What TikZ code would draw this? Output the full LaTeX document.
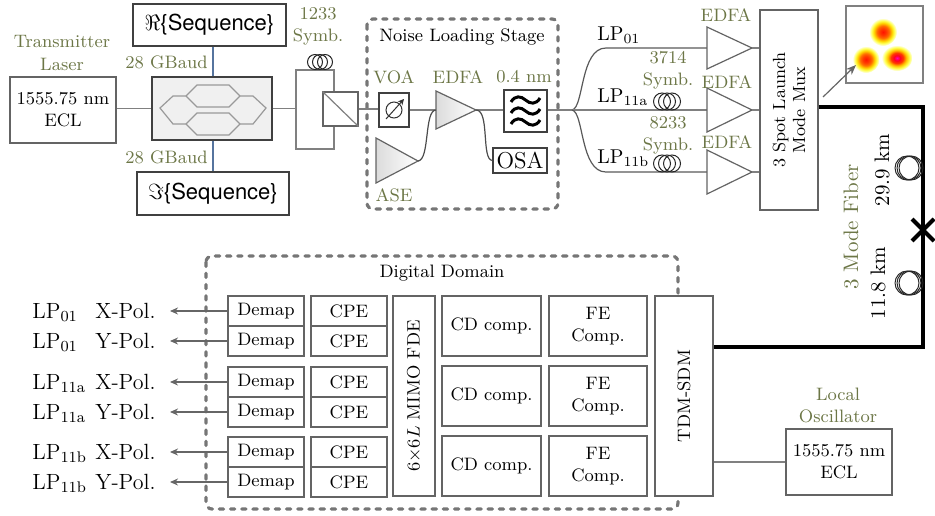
\documentclass[tikz,border=0pt]{standalone}
\usepackage{fontspec}
\newfontfamily\seqfont{TeX Gyre Heros}
\usetikzlibrary{arrows.meta}

\definecolor{labelgreen}{RGB}{108,118,70}
\definecolor{wiregray}{RGB}{128,128,128}
\definecolor{edgegray}{RGB}{100,100,100}
\definecolor{rfblue}{RGB}{86,116,158}
\definecolor{stagegray}{RGB}{118,118,118}

% intensity profiles of the launched spots
\pgfdeclareradialshading{spotwarm}{\pgfpointorigin}{%
  color(0bp)=(red!85!orange); color(6bp)=(red!55!orange); color(11bp)=(orange!85!red);
  color(16bp)=(orange!35!yellow); color(20bp)=(yellow!70); color(25bp)=(white)}
\pgfdeclareradialshading{spothot}{\pgfpointorigin}{%
  color(0bp)=(magenta!70!red); color(5bp)=(red!85!magenta); color(10bp)=(red!55!orange);
  color(15bp)=(orange!50!yellow); color(20bp)=(yellow!70); color(25bp)=(white)}

% fibre spool: centre x, centre y, loop radius, loop offset
\newcommand{\fibercoil}[4]{%
  \foreach \dx in {-1,0,1}{\draw[coilline] ({#1+\dx*#4},#2) circle[radius=#3];}}

\begin{document}
\begin{tikzpicture}[x=0.5pt,y=-0.5pt,
  font=\fontsize{9}{11}\selectfont,
  % a rectangle given by its left, top, right and bottom edges
  span/.style n args={4}{minimum width={(#3-#1)*0.5pt}, minimum height={(#4-#2)*0.5pt},
    at={({(#1+#3)/2},{(#2+#4)/2})}},
  box/.style={draw=edgegray, line width=0.6pt, fill=white, inner sep=0pt, align=center},
  wire/.style={draw=wiregray, line width=0.6pt},
  bendline/.style={draw=black!70, line width=0.6pt},
  rfline/.style={draw=rfblue, line width=0.7pt},
  lab/.style={text=labelgreen, align=center, inner sep=0pt},
  txt/.style={align=center, inner sep=0pt},
  stage/.style={draw=stagegray, line width=1.6pt, line cap=round, dash pattern=on 2.2pt off 3.4pt, rounded corners=3pt},
  fiber/.style={draw=black, line width=2.2pt, line join=miter},
  ampout/.style={draw=edgegray, line width=0.6pt, fill=white},
  ampin/.style={draw=edgegray, line width=0.6pt, left color=black!14, right color=white},
  coilline/.style={draw=black!85, line width=0.5pt},
  outarrow/.style={draw=black!60, line width=0.7pt, -{Stealth[length=4pt,width=3.5pt]}},
]
\useasboundingbox (0,0) rectangle (935,515);

% ---------------- transmitter ----------------
\node[lab] (txlabel) at (62,53) {Transmitter\\Laser};
\node[box, span={10}{77}{116}{143}] (tx) {1555.75 nm\\ECL};
\node[box, draw=black!75, span={133}{4}{286}{46}, font=\fontsize{11}{12}\selectfont] (re) {$\Re${\seqfont\{Sequence\}}};
\node[box, draw=black!75, span={137}{172}{289}{215}, font=\fontsize{11}{12}\selectfont] (im) {$\Im${\seqfont\{Sequence\}}};
\node[box, draw=black!75, fill=black!6, span={152}{77}{272}{140}] (mod) {};
\begin{scope}[draw=black!40, line width=0.6pt]
  \draw (160,108) -- (173,96) -- (186,96) -- (197,85) -- (229,85) -- (240,96) -- (253,96) -- (266,108)
        -- (253,124) -- (240,124) -- (229,135) -- (197,135) -- (186,124) -- (173,124) -- cycle;
  \draw (186,96) -- (197,107) -- (229,107) -- (240,96);
  \draw (186,124) -- (197,113) -- (229,113) -- (240,124);
\end{scope}
\coordinate (rfx) at (213,0);
\draw[rfline] (re.south -| rfx) -- (mod.north -| rfx);
\draw[rfline] (mod.south -| rfx) -- (im.north -| rfx);
\node[lab, anchor=east] (baudtop) at (208,62) {28 GBaud};
\node[lab, anchor=east] (baudbot) at (208,157) {28 GBaud};
\draw[wire] (tx.east |- mod.west) -- (mod.west);

% polarisation-division emulator
\coordinate (loopin) at (296,108.5);
\draw[wire] (mod.east) -- (loopin);
\draw[wire] (296,70) rectangle (334,149);
\node[box, span={323}{92}{358}{126}] (pbs) {};
\draw[wire] (pbs.north west) -- (pbs.south east);
\fibercoil{320}{62}{7.5}{5}
\node[lab] (symbA) at (318,26) {1233\\Symb.};

% ---------------- noise loading ----------------
\draw[stage] (367,19) rectangle (558,209);
\node[txt] (nlslabel) at (462,37) {Noise Loading Stage};
\node[box, draw=black!75, span={379}{93}{409}{127}] (voa) {};
\draw[black!80, line width=0.5pt] (voa.center) circle[radius=8];
\draw[black!80, line width=0.5pt, -{Stealth[length=3pt,width=3pt]}] (386,119) -- (404,99);
\node[lab] (voalabel) at (394,77) {VOA};
\draw[wire] (pbs.east) -- (voa.west |- pbs.east);

\draw[ampin] (436,91) -- (476,110) -- (436,129) -- cycle;
\coordinate (edfaIn) at (436,110);
\coordinate (edfaOut) at (476,110);
\node[lab] (edfalabel) at (458,77) {EDFA};
\draw[wire] (voa.east) -- (edfaIn);

\draw[ampin] (376,138) -- (418,161) -- (376,183) -- cycle;
\coordinate (aseOut) at (418,161);
\node[lab] (aselabel) at (394,195) {ASE};
\draw[bendline] (aseOut) .. controls (430,160) and (424,110) .. (edfaIn);

\node[box, draw=black!75, span={504}{90}{547}{132}] (filt) {};
\foreach \ty in {100,111,122}
  \draw[line width=1.5pt] (511,\ty+2) .. controls (515,\ty-5) and (521,\ty-4) .. (525.5,\ty)
        .. controls (530,\ty+4) and (536,\ty+5) .. (540,\ty-2);
\node[lab] (bwlabel) at (524,77) {0.4 nm};
\draw[wire] (edfaOut) -- (filt.west |- edfaOut);

\node[box, draw=black!75, span={493}{148}{547}{173}, font=\fontsize{11.5}{12}\selectfont] (osa) {OSA};
\draw[bendline] (edfaOut) .. controls (490,110) and (481,160) .. (osa.west);

% ---------------- mode channels ----------------
\coordinate (split) at (572,110);
\draw[wire] (filt.east |- split) -- (split);
\coordinate (ampAin) at (707,48);
\coordinate (ampBin) at (707,110);
\coordinate (ampCin) at (707,172);
\draw[bendline, draw=black!65] (split) .. controls (584,108) and (580,48) .. (606,48) -- (ampAin);
\draw[wire] (split) -- (ampBin);
\draw[bendline, draw=black!65] (split) .. controls (584,112) and (580,172) .. (606,172) -- (ampCin);

\fibercoil{667}{101.5}{8.5}{5}
\fibercoil{667}{163.5}{8.5}{5}
\node[lab] (symbB) at (668,70) {3714\\Symb.};
\node[lab] (symbC) at (668,135) {8233\\Symb.};

\node[txt, anchor=base west, font=\fontsize{10}{11}\selectfont] (lpA) at (597,40) {LP$_{01}$};
\node[txt, anchor=base west, font=\fontsize{10}{11}\selectfont] (lpB) at (597,102) {LP$_{\mathrm{11a}}$};
\node[txt, anchor=base west, font=\fontsize{10}{11}\selectfont] (lpC) at (597,163) {LP$_{\mathrm{11b}}$};

\draw[ampout] (707,27) -- (752,48) -- (707,69) -- cycle;
\draw[ampout] (707,88) -- (752,110) -- (707,132) -- cycle;
\draw[ampout] (707,150) -- (752,172) -- (707,194) -- cycle;
\coordinate (ampAout) at (752,48);
\coordinate (ampBout) at (752,110);
\coordinate (ampCout) at (752,172);
\node[lab] (edfaA) at (726,15) {EDFA};
\node[lab] (edfaB) at (727,82) {EDFA};
\node[lab] (edfaC) at (727,142) {EDFA};

\node[box, span={760}{10}{818}{210}] (mux) {};
\node[txt, rotate=90, font=\fontsize{8.8}{10}\selectfont] (muxtext) at (mux.center) {3 Spot Launch\\Mode Mux};
\draw[wire] (ampAout) -- (ampAout -| mux.west);
\draw[wire] (ampBout) -- (ampBout -| mux.west);
\draw[wire] (ampCout) -- (ampCout -| mux.west);

% spot pattern at the mux output
\node[box, draw=black!50, span={846}{6}{923}{83}] (modeimg) {};
\begin{scope}[blend mode=multiply]
  \shade[shading=spotwarm] (883,32) circle[radius=14];
  \shade[shading=spotwarm] (866,59.5) circle[radius=13.5];
  \shade[shading=spothot] (897,58) ellipse[x radius=15.5, y radius=13];
\end{scope}
\coordinate (muxcorner) at (823,97);
\coordinate (spotmark) at (856,65);
\draw[draw=black!60, line width=0.6pt, -{Stealth[length=5pt,width=4pt]}] (muxcorner) -- (spotmark);

% ---------------- digital receiver ----------------
\draw[stage] (206,256) rectangle (678,509);
\node[txt] (ddlabel) at (442,273) {Digital Domain};

\foreach \i/\ya/\yb in {1/296/326, 2/326/356, 3/367/397, 4/397/427, 5/437/467, 6/467/497} {
  \node[box, span={228}{\ya}{304}{\yb}] (demap\i) {Demap};
  \node[box, span={311}{\ya}{387}{\yb}] (cpe\i) {CPE};
}
\node[box, span={393}{296}{435}{496}] (mimo) {};
\node[txt, rotate=90] (mimotext) at (mimo.center) {$6{\times}6L$ MIMO FDE};
\foreach \j/\ya/\yb in {1/296/356, 2/366/426, 3/436/496} {
  \node[box, span={442}{\ya}{541}{\yb}] (cd\j) {CD comp.};
  \node[box, span={549}{\ya}{647}{\yb}] (fe\j) {FE\\Comp.};
}
\node[box, span={655}{296}{713}{496}] (tdm) {};
\node[txt, rotate=90] (tdmtext) at (tdm.center) {TDM-SDM};

% demapped outputs
\coordinate (outx) at (170,0);
\foreach \i/\y/\lp/\pol in {1/311/01/X, 2/341/01/Y, 3/382/11a/X, 4/412/11a/Y, 5/452/11b/X, 6/482/11b/Y} {
  \draw[outarrow] (demap\i.west) -- (demap\i.west -| outx);
  \node[txt, anchor=base west, font=\fontsize{11}{12}\selectfont] (lp\i) at (32,\y+7) {LP$_{\mathrm{\lp}}$};
  \node[txt, anchor=base west, font=\fontsize{11}{12}\selectfont] (pol\i) at (95,\y+7) {\pol-Pol.};
}

% ---------------- transmission fibre ----------------
\coordinate (fiberY) at (0,107);
\coordinate (fiberX) at (923,0);
\coordinate (fiberB) at (0,347);
\draw[fiber] (mux.east |- fiberY) -- (fiberX |- fiberY) -- (fiberX |- fiberB) -- (tdm.east |- fiberB);
\draw[line width=2pt] (912,219) -- (934,241) (912,241) -- (934,219);
\fibercoil{909}{168}{12}{2}
\fibercoil{909}{283}{12}{2}
\node[lab, rotate=90, font=\fontsize{10.5}{12}\selectfont] (fiblabel) at (851,227) {3 Mode Fiber};
\node[txt, rotate=90, font=\fontsize{10.5}{12}\selectfont] (spanA) at (882,170) {29.9 km};
\node[txt, rotate=90, font=\fontsize{10.5}{12}\selectfont] (spanB) at (878,283) {11.8 km};

% ---------------- local oscillator ----------------
\node[lab] (lolabel) at (838,405) {Local\\Oscillator};
\node[box, span={786}{429}{892}{495}] (lo) {1555.75 nm\\ECL};
\draw[wire] (lo.west) -- (lo.west -| tdm.east);
\end{tikzpicture}
\end{document}
